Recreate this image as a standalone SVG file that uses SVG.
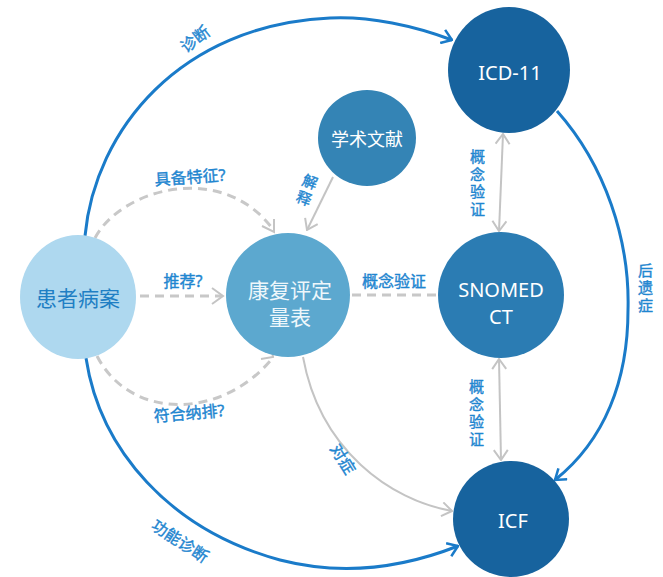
<svg xmlns="http://www.w3.org/2000/svg" width="663" height="577" viewBox="0 0 663 577">
<defs>
<style>
.lbl{font-family:"Noto Sans","Noto Sans CJK SC",sans-serif;font-size:16px;fill:#1f86d0;stroke:#1f86d0;stroke-width:0.4;text-anchor:middle;}
.vl{font-size:15px;writing-mode:vertical-rl;letter-spacing:2.5px;}
.ntx{font-family:"Noto Sans","Noto Sans CJK SC",sans-serif;text-anchor:middle;fill:#ffffff;}
.blue{fill:none;stroke:#1a7bc9;stroke-width:3;}
.gray{fill:none;stroke:#c4c4c4;stroke-width:2;}
.dash{fill:none;stroke:#c8c8c8;stroke-width:3;stroke-dasharray:9 6;}
</style>
<marker id="ab" viewBox="0 0 12 16" refX="11" refY="8" markerWidth="12" markerHeight="16" markerUnits="userSpaceOnUse" orient="auto-start-reverse">
<path d="M1,1 L11,8 L1,15" fill="none" stroke="#1a7bc9" stroke-width="2.5"/>
</marker>
<marker id="ag" viewBox="0 0 12 16" refX="11" refY="8" markerWidth="12" markerHeight="16" markerUnits="userSpaceOnUse" orient="auto-start-reverse">
<path d="M1,1 L11,8 L1,15" fill="none" stroke="#c4c4c4" stroke-width="2"/>
</marker>
</defs>
<rect width="663" height="577" fill="#ffffff"/>
<g id="connectors">
<path class="blue" d="M85,236 C95,130 180,25 330,18 C370,16 415,26 452,40" marker-end="url(#ab)"/>
<path class="blue" d="M86,358 C100,450 170,530 280,560 C350,578 410,565 458,546" marker-end="url(#ab)"/>
<path class="blue" d="M557,111 C605,165 630,240 628,310 C628,380 605,440 555,480" marker-end="url(#ab)"/>
<path class="gray" d="M503,134 L499,231" marker-start="url(#ag)" marker-end="url(#ag)"/>
<path class="gray" d="M499,359 L501,460" marker-start="url(#ag)" marker-end="url(#ag)"/>
<path class="gray" d="M333,177 L307,230" marker-end="url(#ag)"/>
<path class="gray" d="M303,357 C320,450 390,500 452,511" marker-end="url(#ag)"/>
<path class="dash" d="M352,295 L437,295"/>
<path class="dash" d="M140,296 L222,296"/>
<path class="gray" d="M212,288 L223,296 L212,304"/>
<path class="dash" d="M95,238 C120,190 220,160 272,228"/>
<path class="gray" d="M262,226 L274,232 L274,219"/>
<path class="dash" d="M97,356 C130,420 220,420 271,360"/>
<path class="gray" d="M261,359 L273,357 L271,345"/>
</g>
<g id="labels">
<text class="lbl" transform="translate(195,39) rotate(-38)" y="6">诊断</text>
<text class="lbl" transform="translate(180,541) rotate(33)" y="6">功能诊断</text>
<text class="lbl" transform="translate(343,459) rotate(58)" y="6">对症</text>
<text class="lbl" transform="translate(190,177) rotate(-4)" y="6">具备特征?</text>
<text class="lbl" transform="translate(189,413) rotate(-5)" y="6">符合纳排?</text>
<text class="lbl" x="183" y="287">推荐?</text>
<text class="lbl" x="394" y="287">概念验证</text>
<text class="lbl vl" transform="translate(306,191) rotate(20)">解释</text>
<text class="lbl vl" x="477" y="184">概念验证</text>
<text class="lbl vl" x="476" y="414">概念验证</text>
<text class="lbl vl" x="645" y="289">后遗症</text>
</g>
<g id="n-patient">
<ellipse cx="78" cy="297" rx="58" ry="62" fill="#aed8ef"/>
<text class="ntx" x="78" y="306" font-size="21" style="fill:#1f7fc4">患者病案</text>
</g>
<g id="n-scale">
<ellipse cx="288" cy="295" rx="62" ry="62" fill="#5ca8cf"/>
<text class="ntx" font-size="21" style="fill:#eef7fb"><tspan x="290" y="298">康复评定</tspan><tspan x="290" y="325">量表</tspan></text>
</g>
<g id="n-lit">
<ellipse cx="367" cy="138" rx="49" ry="48" fill="#3484b5"/>
<text class="ntx" x="367" y="146" font-size="18">学术文献</text>
</g>
<g id="n-snomed">
<ellipse cx="501" cy="295" rx="63" ry="63" fill="#2b7cb3"/>
<text class="ntx" font-size="20"><tspan x="501" y="297">SNOMED</tspan><tspan x="501" y="324">CT</tspan></text>
</g>
<g id="n-icd">
<ellipse cx="509" cy="70" rx="61" ry="63" fill="#17639e"/>
<text class="ntx" x="510" y="80" font-size="20">ICD-11</text>
</g>
<g id="n-icf">
<ellipse cx="511" cy="519" rx="58" ry="58" fill="#17639e"/>
<text class="ntx" x="513" y="528" font-size="20">ICF</text>
</g>
</svg>
